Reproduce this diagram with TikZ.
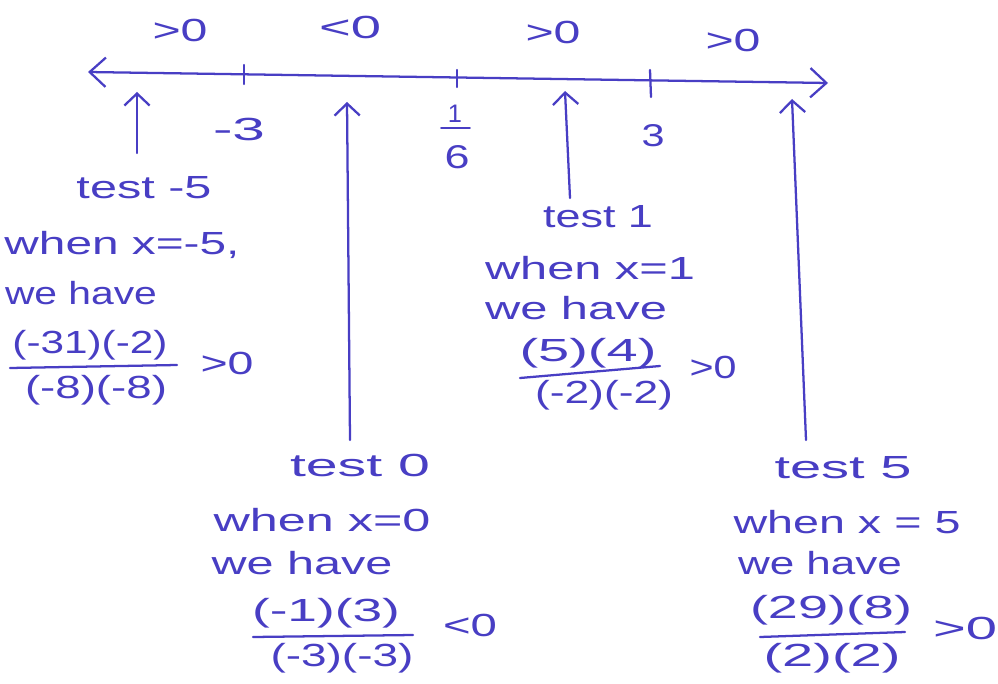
\documentclass[tikz,border=0pt]{standalone}
\usepackage{fontspec}
\setmainfont{Liberation Sans}
\usetikzlibrary{arrows.meta}
\definecolor{ink}{RGB}{72,62,196}
\newcommand\hw[2]{\resizebox{\dimexpr #1pt*3/4\relax}{\height}{#2}}
\newcommand\hh[3]{\resizebox{\dimexpr #1pt*3/4\relax}{\dimexpr #2pt*3/4\relax}{#3}}
\begin{document}
\begin{tikzpicture}[x=0.75pt,y=-0.75pt,
  ink, line width=1.7pt, line cap=round,
  lbl/.style={text=ink, inner sep=0pt, font=\fontsize{24}{28}\selectfont},
  small/.style={text=ink, inner sep=0pt, font=\fontsize{19}{22}\selectfont},
  upar/.style={-{Straight Barb[length=9pt,width=19pt,line width=1.7pt]}},
  axis/.style={{Straight Barb[length=12pt,width=22pt,line width=1.7pt]}-{Straight Barb[length=12pt,width=22pt,line width=1.7pt]}}]
\useasboundingbox[fill=white] (0,0) rectangle (998,684);

% number line
\coordinate (L) at (88,72);
\coordinate (R) at (828,83);
\draw[axis] (L) -- (R);
\coordinate (k1a) at (244,65); \coordinate (k1b) at (244,84);
\coordinate (k2a) at (457,70); \coordinate (k2b) at (457,87);
\coordinate (k3a) at (650,70); \coordinate (k3b) at (651,97);
\draw (k1a) -- (k1b);
\draw (k2a) -- (k2b);
\draw (k3a) -- (k3b);

% sign labels
\node[lbl] (s1) at (180,30) {\hw{55}{>0}};
\node[lbl] (s2) at (350,27) {\hw{62}{<0}};
\node[lbl] (s3) at (553,32) {\hw{55}{>0}};
\node[lbl] (s4) at (733,40) {\hw{55}{>0}};

% tick labels
\node[lbl] (m3) at (239,129) {\hw{52}{-3}};
\node[small] (sixn) at (455,114) {1};
\coordinate (sb1) at (441,128); \coordinate (sb2) at (470,128);
\draw[line width=1.4pt] (sb1) -- (sb2);
\node[lbl] (sixd) at (457,157) {\hh{25}{23}{6}};
\node[lbl] (three) at (653,136) {\hh{23}{22}{3}};

% test arrows
\coordinate (a1b) at (137,153); \coordinate (a1t) at (137,92);
\coordinate (a2b) at (350,440); \coordinate (a2t) at (347,102);
\coordinate (a3b) at (570,198); \coordinate (a3t) at (565,91);
\coordinate (a4b) at (806,440); \coordinate (a4t) at (792,99);
\draw[upar] (a1b) -- (a1t);
\draw[upar] (a2b) -- (a2t);
\draw[upar] (a3b) -- (a3t);
\draw[upar] (a4b) -- (a4t);

% test -5
\node[lbl] (tA) at (144,188) {\hw{135}{test -5}};
\node[lbl] (wA) at (122,245) {\hw{235}{when x=-5,}};
\node[lbl] (hA) at (81,293) {\hw{152}{we have}};
\node[lbl] (nA) at (90,345) {\hw{155}{(-31)(-2)}};
\coordinate (bA1) at (10,368); \coordinate (bA2) at (177,365);
\draw (bA1) -- (bA2);
\node[lbl] (dA) at (96,390) {\hw{142}{(-8)(-8)}};
\node[lbl] (gA) at (227,363) {\hw{53}{>0}};

% test 1
\node[lbl] (tB) at (598,217) {\hw{110}{test 1}};
\node[lbl] (wB) at (590,268) {\hw{210}{when x=1}};
\node[lbl] (hB) at (576,308) {\hw{182}{we have}};
\node[lbl] (nB) at (588,353) {\hw{137}{(5)(4)}};
\coordinate (bB1) at (520,378); \coordinate (bB2) at (660,366);
\draw (bB1) -- (bB2);
\node[lbl] (dB) at (604,395) {\hw{138}{(-2)(-2)}};
\node[lbl] (gB) at (713,367) {\hw{47}{>0}};

% test 0
\node[lbl] (tC) at (360,465) {\hw{140}{test 0}};
\node[lbl] (wC) at (322,520) {\hw{217}{when x=0}};
\node[lbl] (hC) at (302,563) {\hw{181}{we have}};
\node[lbl] (nC) at (326,613) {\hw{148}{(-1)(3)}};
\coordinate (bC1) at (253,637); \coordinate (bC2) at (413,635);
\draw (bC1) -- (bC2);
\node[lbl] (dC) at (342,658) {\hw{143}{(-3)(-3)}};
\node[lbl] (gC) at (470,625) {\hw{54}{<0}};

% test 5
\node[lbl] (tD) at (843,468) {\hw{137}{test 5}};
\node[lbl] (wD) at (847,522) {\hw{227}{when x = 5}};
\node[lbl] (hD) at (820,563) {\hw{164}{we have}};
\node[lbl] (nD) at (831,610) {\hw{162}{(29)(8)}};
\coordinate (bD1) at (760,637); \coordinate (bD2) at (905,632);
\draw (bD1) -- (bD2);
\node[lbl] (dD) at (832,658) {\hw{137}{(2)(2)}};
\node[lbl] (gD) at (965,628) {\hw{64}{>0}};
\end{tikzpicture}
\end{document}
